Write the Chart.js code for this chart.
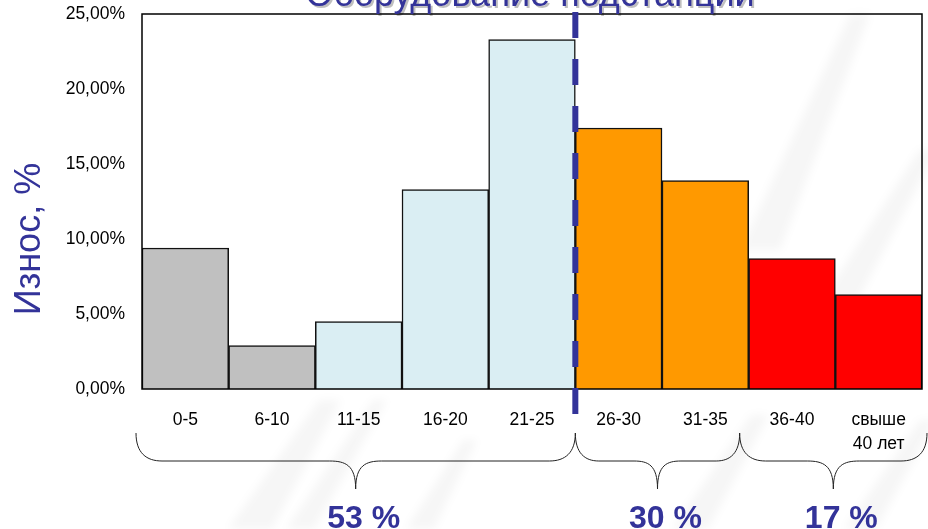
<!DOCTYPE html>
<html lang="ru">
<head>
<meta charset="utf-8">
<script src="https://cdn.jsdelivr.net/npm/chart.js@4/dist/chart.umd.min.js"></script>
<style>
  html, body { margin: 0; padding: 0; background: #ffffff; }
  #wrap { width: 928px; height: 529px; }
</style>
</head>
<body>
<div id="wrap"><canvas id="chart" width="928" height="529"></canvas></div>
<script>
// Возрастные группы оборудования (лет)
const ageGroups = ['0-5', '6-10', '11-15', '16-20', '21-25', '26-30', '31-35', '36-40', ['свыше', '40 лет']];
// Доля оборудования в каждой группе, %
const wearShare = [9.4, 2.9, 4.5, 13.3, 23.3, 17.4, 13.9, 8.7, 6.3];
const barColors = ['#C0C0C0', '#C0C0C0', '#DAEEF3', '#DAEEF3', '#DAEEF3', '#FF9900', '#FF9900', '#FF0000', '#FF0000'];
// Укрупнённые группы и их итоговая доля
const groupTotals = [53, 30, 17];
const yTicks = [0, 5, 10, 15, 20, 25];

const FONT = '"Liberation Sans", Arial, sans-serif';
const BLUE = '#333399';

// светлые косые полосы фоновой подложки слайда
const backdropStripes = [
  [250, 529, 330, 400, 22], [300, 529, 380, 400, 14],
  [690, 529, 760, 415, 18], [860, 529, 928, 420, 16],
  [760, 250, 860, 14, 20], [840, 300, 928, 150, 18],
  [420, 529, 470, 440, 14]
];

const backdrop = {
  id: 'backdrop',
  beforeDraw(chart) {
    const { ctx } = chart;
    ctx.save();
    ctx.filter = 'blur(4px)';
    ctx.fillStyle = 'rgba(0,0,0,0.035)';
    backdropStripes.forEach(([x0, y0, x1, y1, w]) => {
      ctx.beginPath();
      ctx.moveTo(x0 - w, y0);
      ctx.lineTo(x1 - w / 2, y1);
      ctx.lineTo(x1 + w / 2, y1);
      ctx.lineTo(x0 + w, y0);
      ctx.closePath();
      ctx.fill();
    });
    ctx.restore();
  }
};

const decorations = {
  id: 'decorations',
  afterDatasetsDraw(chart) {
    const { ctx, chartArea: a, scales: { x } } = chart;
    const edge = k => x.getPixelForValue(k - 0.5);
    ctx.save();

    // рамка области построения
    ctx.strokeStyle = '#000';
    ctx.lineWidth = 1.5;
    ctx.strokeRect(a.left, a.top, a.right - a.left, a.bottom - a.top);

    // заголовок
    ctx.font = '36px ' + FONT;
    ctx.textAlign = 'center';
    ctx.textBaseline = 'alphabetic';
    ctx.shadowColor = 'rgba(0,0,0,0.25)';
    ctx.shadowOffsetX = 2;
    ctx.shadowOffsetY = 2;
    ctx.fillStyle = BLUE;
    ctx.fillText('Оборудование подстанций', 530, 6);
    ctx.shadowColor = 'transparent';

    // подпись оси Y
    ctx.save();
    ctx.translate(40, 239);
    ctx.rotate(-Math.PI / 2);
    ctx.fillText('Износ, %', 0, 0);
    ctx.restore();

    // пунктирная граница между группами 21-25 и 26-30
    const xd = edge(5);
    ctx.strokeStyle = BLUE;
    ctx.lineWidth = 6;
    ctx.setLineDash([26, 21]);
    ctx.beginPath();
    ctx.moveTo(xd, 12);
    ctx.lineTo(xd, 414);
    ctx.stroke();
    ctx.setLineDash([]);

    // фигурные скобки под группами
    const yT = 433, yM = 461, yB = 489;
    const x0s = [edge(0) - 6, edge(5), edge(7) - 9];
    const x1s = [edge(5), edge(7) - 9, edge(9) + 5];
    ctx.strokeStyle = '#222';
    ctx.lineWidth = 1;
    groupTotals.forEach((v, i) => {
      const x0 = x0s[i], x1 = x1s[i], xt = (x0 + x1) / 2;
      const r = Math.min(26, (x1 - x0) / 7);
      ctx.beginPath();
      ctx.moveTo(x0, yT);
      ctx.bezierCurveTo(x0, yM - 8, x0 + r * 0.4, yM, x0 + r, yM);
      ctx.lineTo(xt - r, yM);
      ctx.bezierCurveTo(xt - r * 0.4, yM, xt, yM + 4, xt, yB);
      ctx.moveTo(x1, yT);
      ctx.bezierCurveTo(x1, yM - 8, x1 - r * 0.4, yM, x1 - r, yM);
      ctx.lineTo(xt + r, yM);
      ctx.bezierCurveTo(xt + r * 0.4, yM, xt, yM + 4, xt, yB);
      ctx.stroke();

      ctx.fillStyle = BLUE;
      ctx.font = 'bold 32px ' + FONT;
      ctx.textAlign = 'center';
      ctx.textBaseline = 'alphabetic';
      ctx.fillText(v + ' %', xt + 8, 528);
    });
    ctx.restore();
  }
};

new Chart(document.getElementById('chart'), {
  type: 'bar',
  data: {
    labels: ageGroups,
    datasets: [{
      data: wearShare,
      backgroundColor: barColors,
      borderColor: '#111',
      borderWidth: 1.5,
      categoryPercentage: 1,
      barPercentage: 1
    }]
  },
  options: {
    responsive: false,
    animation: false,
    layout: { padding: { top: 14, right: 6, left: 0, bottom: 0 } },
    plugins: { legend: { display: false }, tooltip: { enabled: false }, title: { display: false } },
    scales: {
      x: {
        grid: { display: false, drawTicks: false },
        border: { display: false },
        ticks: { color: '#000', font: { family: FONT, size: 17.5, lineHeight: '24px' }, padding: 19, maxRotation: 0, autoSkip: false },
        afterFit(s) { s.height = 140; s.paddingLeft = 0; s.paddingRight = 0; }
      },
      y: {
        min: 0,
        max: 25,
        grid: { display: false, drawTicks: false },
        border: { display: false },
        afterBuildTicks(s) { s.ticks = yTicks.map(v => ({ value: v })); },
        ticks: {
          color: '#000',
          font: { family: FONT, size: 17.5 },
          padding: 17,
          callback: v => v.toFixed(2).replace('.', ',') + '%'
        },
        afterFit(s) { s.width = 142; s.paddingTop = 0; s.paddingBottom = 0; }
      }
    }
  },
  plugins: [backdrop, decorations]
});
</script>
</body>
</html>
